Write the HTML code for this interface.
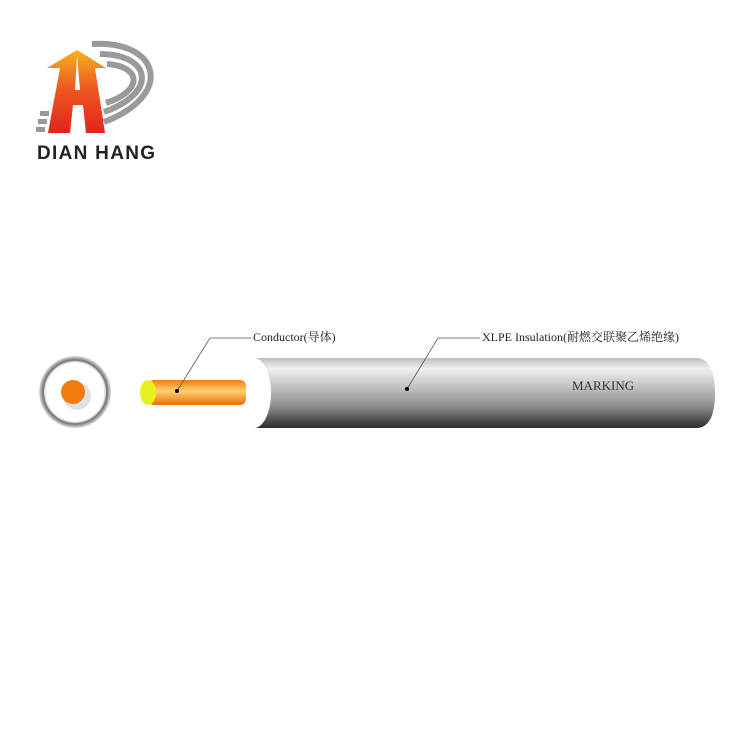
<!DOCTYPE html>
<html><head><meta charset="utf-8"><style>
body{margin:0;background:#fff;width:750px;height:750px;overflow:hidden}
</style></head><body>
<svg width="750" height="750" viewBox="0 0 750 750" xmlns="http://www.w3.org/2000/svg">
<defs>
<linearGradient id="arr" x1="0" y1="0" x2="0" y2="1">
<stop offset="0" stop-color="#f7b21c"/><stop offset="0.45" stop-color="#ef5a22"/><stop offset="1" stop-color="#e2231c"/>
</linearGradient>
<linearGradient id="body" x1="0" y1="0" x2="0" y2="1">
<stop offset="0" stop-color="#bdbdbd"/><stop offset="0.15" stop-color="#f0f0f0"/><stop offset="0.4" stop-color="#c4c4c4"/><stop offset="0.7" stop-color="#8c8c8c"/><stop offset="0.9" stop-color="#4a4a4a"/><stop offset="1" stop-color="#2e2e2e"/>
</linearGradient>
<linearGradient id="cond" x1="0" y1="0" x2="0" y2="1">
<stop offset="0" stop-color="#f07c10"/><stop offset="0.45" stop-color="#ffd070"/><stop offset="1" stop-color="#ea6a08"/>
</linearGradient>
<radialGradient id="ring" cx="0.5" cy="0.5" r="0.5">
<stop offset="0.8" stop-color="#fff"/><stop offset="0.92" stop-color="#999"/><stop offset="1" stop-color="#ddd"/>
</radialGradient>
</defs>
<!-- logo -->
<g fill="none" stroke="#9a9a9a" stroke-width="6">
<path d="M92 44 C160 40 175 95 104 122"/>
<path d="M100 54 C150 54 160 92 104 112"/>
<path d="M107 64 C140 66 145 90 106 103"/>
</g>
<g fill="#999"><rect x="36" y="127" width="9" height="5"/><rect x="38" y="119" width="9" height="5"/><rect x="40" y="111" width="9" height="5"/></g>
<path d="M77 50 L106 68 L95 68 L105 133 L86 133 L83 105 L73 105 L70 133 L48 133 L60 68 L47 68 Z" fill="url(#arr)"/>
<path d="M77 55 L80 90 L75 90 Z" fill="#fff"/>
<text x="37" y="159" font-family="Liberation Sans, sans-serif" font-size="19" font-weight="bold" fill="#222" textLength="118">DIAN HANG</text>
<!-- cross section -->
<circle cx="75" cy="392" r="36" fill="url(#ring)"/>
<circle cx="75" cy="392" r="32" fill="none" stroke="#808080" stroke-width="2"/>
<circle cx="77" cy="396" r="14" fill="#ccc" opacity="0.6"/>
<circle cx="73" cy="392" r="12" fill="#f07c10"/>
<!-- cable body -->
<path d="M255 358 L698 358 Q715 360 715 393 Q715 426 698 428 L255 428 Z" fill="url(#body)"/>
<ellipse cx="254" cy="393" rx="17" ry="35" fill="#fff"/>
<!-- conductor -->
<rect x="148" y="380" width="98" height="25" rx="6" fill="url(#cond)"/>
<ellipse cx="148" cy="392.5" rx="8" ry="12.5" fill="#e8f020"/>
<text x="572" y="390" font-family="Liberation Serif, serif" font-size="13" fill="#333">MARKING</text>
<!-- leaders -->
<g stroke="#555" stroke-width="0.8" fill="none">
<path d="M251 338 L210 338 L177 391"/>
<path d="M480 338 L438 338 L407 389"/>
</g>
<circle cx="177" cy="391" r="2" fill="#000"/>
<circle cx="407" cy="389" r="2" fill="#000"/>
<text x="253" y="341" font-family="Liberation Serif, 'Noto Serif CJK SC', serif" font-size="12" fill="#222">Conductor(导体)</text>
<text x="482" y="341" font-family="Liberation Serif, 'Noto Serif CJK SC', serif" font-size="12" fill="#222">XLPE Insulation(耐燃交联聚乙烯绝缘)</text>
</svg>
</body></html>
